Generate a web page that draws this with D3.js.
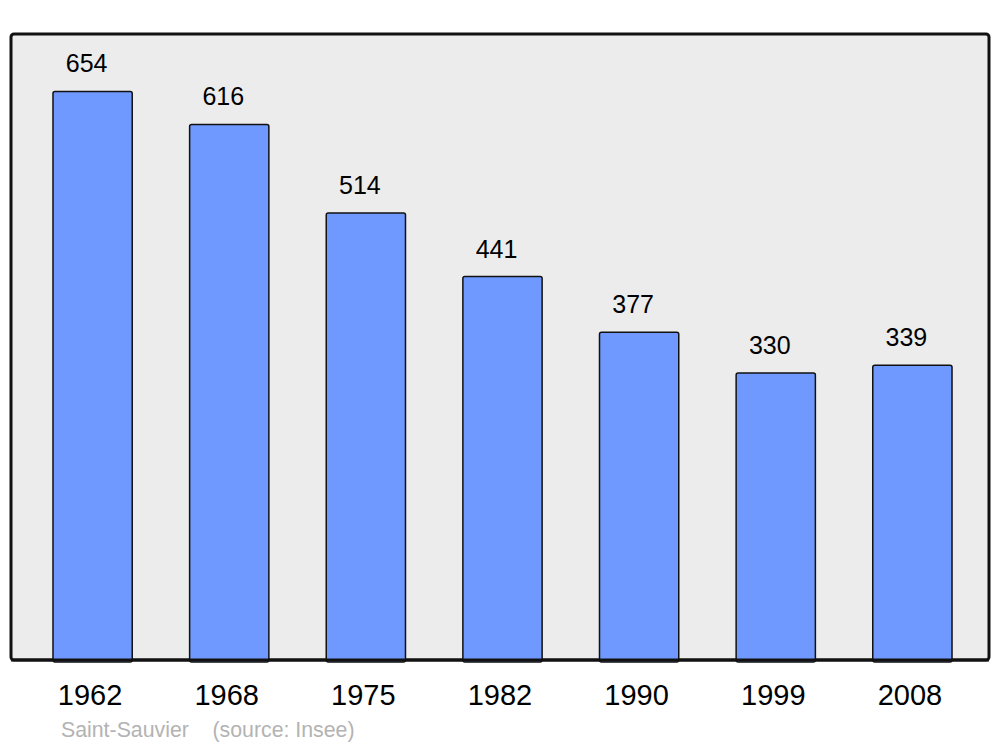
<!DOCTYPE html>
<html><head><meta charset="utf-8">
<script src="https://cdn.jsdelivr.net/npm/d3@7"></script>
<style>body{margin:0;background:#fff}svg{display:block}text{font-family:"Liberation Sans",Arial,sans-serif}</style>
</head><body>
<script>
const years = ["1962","1968","1975","1982","1990","1999","2008"];
const population = [654,616,514,441,377,330,339];
const sourceLabel = "Saint-Sauvier    (source: Insee)";

const W = 1000, H = 747;
const svg = d3.select("body").append("svg").attr("width", W).attr("height", H);
const plot = {x0: 11, x1: 989, y0: 34, y1: 660};

svg.append("rect").attr("x", plot.x0).attr("y", plot.y0)
  .attr("width", plot.x1 - plot.x0).attr("height", plot.y1 - plot.y0)
  .attr("rx", 3).attr("fill", "#ececec").attr("stroke", "#111").attr("stroke-width", 3);

const x = d3.scaleBand().domain(years).range([12, 993]).paddingInner(0.42).paddingOuter(0.3);
const y = d3.scaleLinear().domain([0, 720]).range([plot.y1, plot.y0]);

const data = years.map((yr, i) => ({yr, v: population[i]}));

svg.selectAll("rect.bar").data(data).join("rect").attr("class", "bar")
  .attr("x", d => x(d.yr)).attr("y", d => y(d.v))
  .attr("width", x.bandwidth()).attr("height", d => y(0) - y(d.v) + 2)
  .attr("rx", 2).attr("fill", "#7099ff").attr("stroke", "#111").attr("stroke-width", 1.5);

svg.append("line").attr("x1", plot.x0).attr("x2", plot.x1).attr("y1", plot.y1).attr("y2", plot.y1)
  .attr("stroke", "#111").attr("stroke-width", 3);

svg.selectAll("text.val").data(data).join("text").attr("class", "val")
  .attr("x", d => x(d.yr) + x.bandwidth() / 2 - 6).attr("y", d => y(d.v) - 19)
  .attr("text-anchor", "middle").attr("font-size", 25).attr("fill", "#000")
  .text(d => d.v);

svg.selectAll("text.yr").data(data).join("text").attr("class", "yr")
  .attr("x", d => x(d.yr) + x.bandwidth() / 2 - 2.5).attr("y", 705)
  .attr("text-anchor", "middle").attr("font-size", 29).attr("fill", "#000")
  .text(d => d.yr);

svg.append("text").attr("x", 61).attr("y", 737).attr("font-size", 21.3)
  .attr("fill", "#b3b3b3").attr("xml:space", "preserve").style("white-space", "pre")
  .text(sourceLabel);
</script>
</body></html>
